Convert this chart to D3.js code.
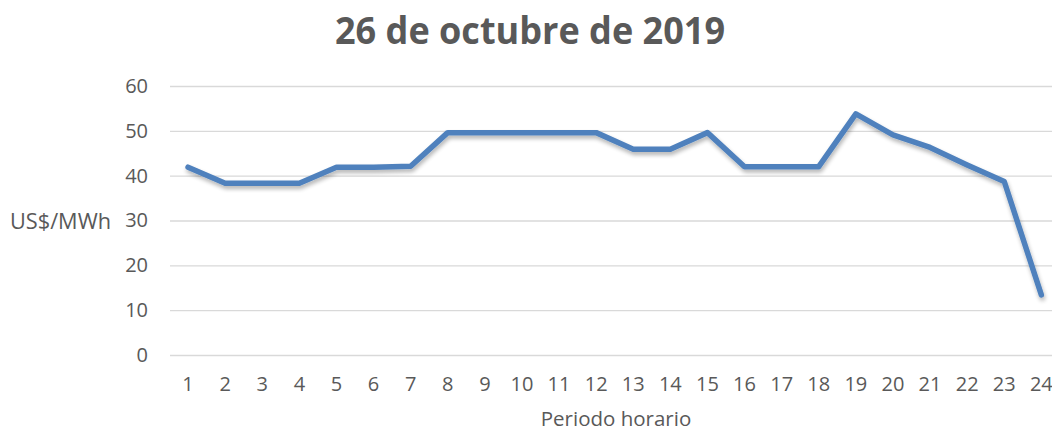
<!DOCTYPE html>
<html><head><meta charset="utf-8">
<script src="https://cdn.jsdelivr.net/npm/d3@7"></script>
<style>body{margin:0;background:#fff;} svg{display:block;} text{font-family:"Open Sans",sans-serif;fill:#595959;}</style>
</head><body><svg id="c" width="1052" height="434"></svg>
<script>
const periods = ["1","2","3","4","5","6","7","8","9","10","11","12","13","14","15","16","17","18","19","20","21","22","23","24"];
const prices = [41.9,38.3,38.3,38.3,41.9,41.9,42.1,49.6,49.6,49.6,49.6,49.6,45.9,45.9,49.6,42.0,42.0,42.0,53.8,49.1,46.3,42.4,38.7,13.4];
const yTicks = [0,10,20,30,40,50,60];
const title = "26 de octubre de 2019";
const yTitle = "US$/MWh";
const xTitle = "Periodo horario";

const svg = d3.select("#c");
const left = 169.5, step = 37.1;
const x = d3.scaleBand().domain(periods).range([left, left + step*periods.length]);
const y = d3.scaleLinear().domain([0,60]).range([355,86]);

const defs = svg.append("defs");
const f = defs.append("filter").attr("id","sh").attr("x","-5%").attr("y","-20%").attr("width","110%").attr("height","140%");
f.append("feGaussianBlur").attr("in","SourceAlpha").attr("stdDeviation",2).attr("result","b");
f.append("feOffset").attr("in","b").attr("dx",1).attr("dy",3).attr("result","o");
f.append("feComponentTransfer").attr("in","o").attr("result","o2").append("feFuncA").attr("type","linear").attr("slope",0.3);
const m = f.append("feMerge"); m.append("feMergeNode").attr("in","o2"); m.append("feMergeNode").attr("in","SourceGraphic");

// grid
const yAxis = d3.axisLeft(y).tickValues(yTicks).tickSize(-(1052-170)).tickPadding(22);
const gy = svg.append("g").attr("transform","translate(170,0)").call(yAxis);
gy.select(".domain").remove();
gy.selectAll(".tick line").attr("stroke","#d9d9d9").attr("stroke-width",1.3);
gy.selectAll(".tick text").attr("font-size",20).style("fill","#595959").style("font-family","'Open Sans',sans-serif");

const xAxis = d3.axisBottom(x).tickSize(0).tickPadding(22);
const gx = svg.append("g").attr("transform","translate(0,355)").call(xAxis);
gx.select(".domain").remove();
gx.selectAll(".tick text").attr("font-size",20).style("fill","#595959").style("font-family","'Open Sans',sans-serif");

const line = d3.line().x((d,i)=>x(periods[i])+x.bandwidth()/2).y(d=>y(d));
svg.append("path").datum(prices).attr("d",line).attr("fill","none")
  .attr("stroke","#4F81BD").attr("stroke-width",5.5).attr("stroke-linejoin","round").attr("stroke-linecap","round")
  .attr("filter","url(#sh)");

svg.append("text").attr("x",530).attr("y",44).attr("text-anchor","middle")
  .attr("font-size",37).attr("font-weight","bold").attr("textLength",390).attr("lengthAdjust","spacingAndGlyphs").text(title);
svg.append("text").attr("x",10).attr("y",229).attr("font-size",21).attr("textLength",101).attr("lengthAdjust","spacingAndGlyphs").text(yTitle);
svg.append("text").attr("x",616).attr("y",426).attr("text-anchor","middle").attr("font-size",20.5).text(xTitle);
</script></body></html>
